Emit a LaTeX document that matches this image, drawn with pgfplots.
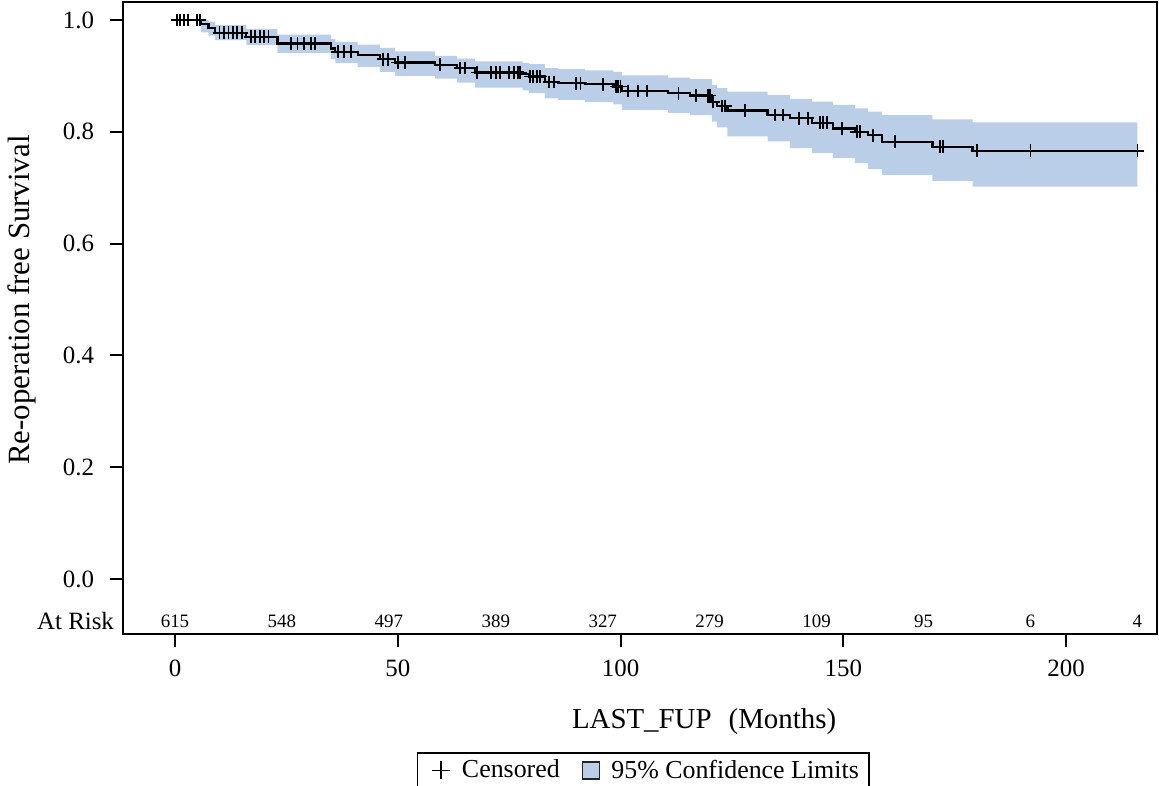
\documentclass[border=0pt]{standalone}
\usepackage{pgfplots}
\pgfplotsset{compat=1.18}
\usepackage{pgfplotstable}
\usepgfplotslibrary{fillbetween}
\usepackage{fontspec}
\setmainfont{Liberation Serif}
\definecolor{bandblue}{RGB}{186,206,232}

\pgfplotstableread{
t S
0 1.000
5.8 0.993
7.5 0.986
9 0.977
16 0.970
23 0.958
35 0.949
36 0.943
41 0.937
46 0.930
49.4 0.924
58.4 0.920
63.3 0.914
67.3 0.906
78 0.903
79.5 0.899
83 0.889
86 0.887
92 0.885
98.4 0.881
100.3 0.873
110.7 0.869
115.6 0.865
120.5 0.854
121.6 0.846
124 0.838
133 0.830
138 0.824
143 0.816
147.7 0.806
152.6 0.800
155.5 0.794
158.7 0.782
170 0.773
179 0.766
217.3 0.766
}\curve

\pgfplotstableread{
t lo hi
0 1.000 1.000
5.8 0.978 1.000
7.5 0.972 0.997
9 0.964 0.991
16 0.955 0.984
23 0.941 0.974
35 0.930 0.966
36 0.923 0.961
41 0.916 0.956
46 0.907 0.950
49.4 0.900 0.944
58.4 0.895 0.936
63.3 0.888 0.931
67.3 0.879 0.926
78 0.874 0.923
79.5 0.869 0.921
83 0.860 0.914
86 0.857 0.912
92 0.853 0.910
98.4 0.849 0.907
100.3 0.839 0.901
110.7 0.834 0.897
115.6 0.830 0.894
120.5 0.818 0.884
121.6 0.808 0.878
124 0.792 0.872
133 0.783 0.866
138 0.771 0.859
143 0.762 0.854
147.7 0.753 0.848
152.6 0.744 0.842
155.5 0.733 0.836
158.7 0.723 0.830
170 0.712 0.822
179 0.702 0.817
216 0.702 0.817
}\band

\pgfplotstableread{
t S
0.5 1.000
1.2 1.000
2 1.000
3 1.000
5 1.000
5.6 1.000
10 0.977
11 0.977
12 0.977
13 0.977
14 0.977
15 0.977
17 0.970
18 0.970
19 0.970
20 0.970
21 0.970
26 0.958
27.5 0.958
29 0.958
30.5 0.958
31.5 0.958
36.5 0.943
38 0.943
39.5 0.943
46.7 0.930
47.8 0.930
50 0.924
51.6 0.924
59.5 0.920
64 0.914
65 0.914
67.8 0.906
71 0.906
72 0.906
73 0.906
75 0.906
76 0.906
77 0.906
77.5 0.906
79.7 0.899
80.4 0.899
81.2 0.899
82 0.899
84 0.889
85 0.889
90 0.887
91 0.887
96 0.885
99 0.881
99.5 0.881
100 0.881
101.7 0.873
104 0.873
106 0.873
113 0.869
117 0.865
119.6 0.865
120 0.865
120.8 0.854
122.8 0.846
123.5 0.846
128 0.838
134.7 0.830
136.5 0.830
140 0.824
142 0.824
144.8 0.816
145.5 0.816
146.3 0.816
149.7 0.806
153 0.800
153.8 0.800
156.7 0.794
161.6 0.782
171.7 0.773
172.4 0.773
180 0.766
192 0.766
216 0.766
}\cens

\pgfplotstableread{
t y n
0 -0.075 615
24 -0.075 548
48 -0.075 497
72 -0.075 389
96 -0.075 327
120 -0.075 279
144 -0.075 109
168 -0.075 95
192 -0.075 6
216 -0.075 4
}\atrisk

\begin{document}
\begin{tikzpicture}
\begin{axis}[
  name=ax,
  scale only axis, width=517bp, height=316bp,
  xmin=-11.67, xmax=220.4, ymin=-0.0984, ymax=1.0322,
  axis line style={line width=1bp},
  every tick/.style={black, line width=1bp},
  tick align=outside, major tick length=6.5bp,
  xtick={0,50,100,150,200}, ytick={0,0.2,0.4,0.6,0.8,1},
  xtick pos=bottom, ytick pos=left,
  /pgf/number format/assume math mode=true,
  yticklabel style={/tikz/xshift=-4.5bp, /pgf/number format/fixed, /pgf/number format/fixed zerofill, /pgf/number format/precision=1},
  xticklabel style={/tikz/yshift=-3bp},
  ticklabel style={font=\fontsize{12.5}{15}\selectfont},
  extra y ticks={-0.075}, extra y tick labels={At Risk},
  extra y tick style={major tick length=0pt, yticklabel style={/tikz/xshift=3.5bp}},
  xlabel={LAST\_FUP\hspace{8.5bp}(Months)},
  ylabel={Re-operation free Survival},
  xlabel style={font=\fontsize{14.5}{17}\selectfont, at={(axis description cs:0.562,-0.139)}, anchor=center},
  ylabel style={font=\fontsize{15.5}{18}\selectfont, at={(axis description cs:-0.0977,0.5285)}, anchor=center},
  legend style={at={(axis description cs:0.503,-0.1867)}, anchor=north,
    draw=black, line width=0.8bp, font=\fontsize{13}{15}\selectfont,
    legend columns=2, inner xsep=3bp, inner ysep=1.5bp,
    /tikz/every odd column/.append style={column sep=3.5bp},
    /tikz/every even column/.append style={column sep=9bp}},
  legend cell align=left,
]
\addlegendimage{legend image code/.code={\path (-4bp,0bp); \draw[line width=0.8bp] (0bp,0bp) -- (9bp,0bp) (4.5bp,-4.5bp) -- (4.5bp,4.5bp);}}
\addlegendentry{Censored}
\addlegendimage{legend image code/.code={\draw[line width=0.8bp, draw=black!85, fill=bandblue] (0bp,-4.2bp) rectangle (8.5bp,4.2bp);}}
\addlegendentry{95\% Confidence Limits}

\addplot[name path=U, const plot, draw=none, forget plot] table[x=t, y=hi] {\band};
\addplot[name path=L, const plot, draw=none, forget plot] table[x=t, y=lo] {\band};
\addplot[bandblue, forget plot] fill between[of=U and L];

\addplot[const plot, black, line width=1.1bp, forget plot] table[x=t, y=S] {\curve};
\addplot[only marks, mark=+, mark size=3.2bp, line width=0.9bp, black, forget plot] table[x=t, y=S] {\cens};

\addplot[only marks, mark=*, mark size=0pt, mark options={draw=none, fill=none},
  nodes near coords, point meta=explicit symbolic,
  nodes near coords style={anchor=center, font=\fontsize{9.5}{11}\selectfont, black},
  forget plot] table[x=t, y=y, meta=n] {\atrisk};
\end{axis}
\pgfresetboundingbox
\path[use as bounding box] ([shift={(-61.5bp,-76bp)}]ax.south west) rectangle ([shift={(1bp,1bp)}]ax.north east);
\end{tikzpicture}
\end{document}
